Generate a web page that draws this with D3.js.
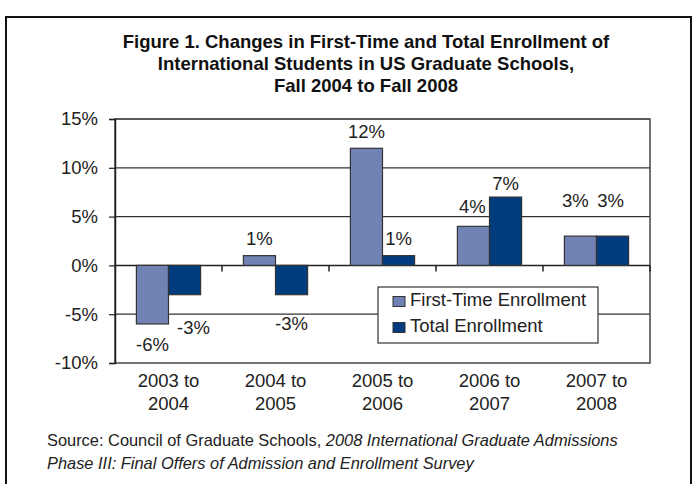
<!DOCTYPE html>
<html>
<head>
<meta charset="utf-8">
<script src="https://cdn.jsdelivr.net/npm/d3@7"></script>
<style>
  body { margin: 0; background: #fff; }
  svg { font-family: "Liberation Sans", Arial, sans-serif; }
</style>
</head>
<body>
<svg id="chart"></svg>
<script>
// chart data
var categories = ['2003 to|2004', '2004 to|2005', '2005 to|2006', '2006 to|2007', '2007 to|2008'];
var seriesNames = ['First-Time Enrollment', 'Total Enrollment'];
var firstTime = [-6, 1, 12, 4, 3];
var total = [-3, -3, 1, 7, 3];
var yTicks = [-10, -5, 0, 5, 10, 15];
var titleLines = [
  'Figure 1. Changes in First-Time and Total Enrollment of',
  'International Students in US Graduate Schools,',
  'Fall 2004 to Fall 2008'
];

var config = { width: 693, height: 484, font: 18.5 };
var colors = ['#7183B5', '#003C7E'];

var margin = { top: 119, right: 43, bottom: 121, left: 115 },
  width = config.width - margin.left - margin.right,
  height = config.height - margin.top - margin.bottom;

var svg = d3.select('#chart').attr('width', config.width).attr('height', config.height);

// outer frame
svg.append('rect')
  .attr('x', 6).attr('y', 17)
  .attr('width', 685).attr('height', 480)
  .attr('fill', 'none').attr('stroke', '#111').attr('stroke-width', 2);

// title
svg.append('g').selectAll('text').data(titleLines).enter().append('text')
  .attr('x', 366)
  .attr('y', function(d, i) { return 48 + i * 22; })
  .attr('text-anchor', 'middle')
  .attr('font-weight', 'bold')
  .attr('font-size', config.font)
  .attr('fill', '#111')
  .text(function(d) { return d; });

var g = svg.append('g').attr('transform', 'translate(' + margin.left + ',' + margin.top + ')');

var x0 = d3.scaleBand().domain(d3.range(categories.length)).range([0, width]).paddingInner(0.4).paddingOuter(0.2);
var x1 = d3.scaleBand().domain([0, 1]).range([0, x0.bandwidth()]);
var xc = d3.scaleBand().domain(d3.range(categories.length)).range([0, width]);
var y = d3.scaleLinear().domain([-10, 15]).range([height, 0]);

// gridlines
g.append('g').selectAll('line').data(yTicks.filter(function(t) { return t !== 0 && t !== -10; })).enter().append('line')
  .attr('x1', 0).attr('x2', width)
  .attr('y1', function(d) { return y(d); }).attr('y2', function(d) { return y(d); })
  .attr('stroke', '#333').attr('stroke-width', 1.2);

// plot frame
g.append('rect').attr('width', width).attr('height', height)
  .attr('fill', 'none').attr('stroke', '#444').attr('stroke-width', 1.5);

// y axis
var yAxis = g.append('g').call(d3.axisLeft(y).tickValues(yTicks).tickSize(6).tickPadding(11)
  .tickFormat(function(d) { return d + '%'; }));
yAxis.select('.domain').attr('stroke', '#222').attr('stroke-width', 1.5);
yAxis.selectAll('.tick line').attr('stroke', '#222').attr('stroke-width', 1.2);
yAxis.selectAll('text').attr('font-size', config.font).attr('fill', '#222')
  .attr('font-family', '"Liberation Sans", Arial, sans-serif');

// zero axis with category ticks
var zero = g.append('g').attr('transform', 'translate(0,' + y(0) + ')');
zero.append('line').attr('x1', 0).attr('x2', width).attr('stroke', '#222').attr('stroke-width', 1.5);
zero.selectAll('.ct').data(d3.range(1, categories.length + 1)).enter().append('line')
  .attr('x1', function(d) { return d * xc.bandwidth(); })
  .attr('x2', function(d) { return d * xc.bandwidth(); })
  .attr('y1', 0).attr('y2', 6)
  .attr('stroke', '#222').attr('stroke-width', 1.5);

// bars
var series = [firstTime, total];
series.forEach(function(vals, s) {
  g.append('g').selectAll('rect').data(vals).enter().append('rect')
    .attr('x', function(d, i) { return x0(i) + x1(s); })
    .attr('y', function(d) { return y(Math.max(0, d)); })
    .attr('width', x1.bandwidth())
    .attr('height', function(d) { return Math.abs(y(d) - y(0)); })
    .attr('fill', colors[s])
    .attr('stroke', '#333').attr('stroke-width', 1.2);
});

// value labels (manual nudges like the original)
var nudge = { '0-1': [9, 12], '1-1': [0, 8], '3-0': [-1, -3], '3-1': [0, 3], '4-0': [-5, -19], '4-1': [-2, -19] };
series.forEach(function(vals, s) {
  g.append('g').selectAll('text').data(vals).enter().append('text')
    .attr('x', function(d, i) {
      var n = nudge[i + '-' + s] || [0, 0];
      return x0(i) + x1(s) + x1.bandwidth() / 2 + n[0];
    })
    .attr('y', function(d, i) {
      var n = nudge[i + '-' + s] || [0, 0];
      return (d >= 0 ? y(d) - 17 : y(d) + 21) + n[1];
    })
    .attr('dy', '0.35em')
    .attr('text-anchor', 'middle')
    .attr('font-size', config.font)
    .attr('fill', '#222')
    .text(function(d) { return d + '%'; });
});

// category labels
var cl = g.append('g').attr('transform', 'translate(0,' + height + ')');
cl.selectAll('text').data(categories).enter().append('text')
  .attr('x', function(d, i) { return xc(i) + xc.bandwidth() / 2; })
  .attr('y', 24)
  .attr('text-anchor', 'middle')
  .attr('font-size', config.font)
  .attr('fill', '#222')
  .each(function(d) {
    var parts = d.split('|');
    d3.select(this).selectAll('tspan').data(parts).enter().append('tspan')
      .attr('x', d3.select(this).attr('x'))
      .attr('dy', function(p, j) { return j ? 23 : 0; })
      .text(function(p) { return p; });
  });

// legend
var lg = svg.append('g').attr('transform', 'translate(378,287)');
lg.append('rect').attr('width', 220).attr('height', 56)
  .attr('fill', '#fff').attr('stroke', '#333').attr('stroke-width', 1.2);
seriesNames.forEach(function(name, s) {
  lg.append('rect').attr('x', 15).attr('y', 9.5 + s * 26).attr('width', 12).attr('height', 10)
    .attr('fill', colors[s]).attr('stroke', '#333').attr('stroke-width', 1);
  lg.append('text').attr('x', 32).attr('y', 19 + s * 26)
    .attr('font-size', config.font).attr('fill', '#222').text(name);
});

// source
var src = svg.append('text').attr('x', 47).attr('y', 446).attr('font-size', 16.4).attr('fill', '#222');
src.append('tspan').text('Source: Council of Graduate Schools, ');
src.append('tspan').attr('font-style', 'italic').text('2008 International Graduate Admissions');
svg.append('text').attr('x', 47).attr('y', 469).attr('font-size', 16.4).attr('fill', '#222')
  .attr('font-style', 'italic').text('Phase III: Final Offers of Admission and Enrollment Survey');
</script>
</body>
</html>
